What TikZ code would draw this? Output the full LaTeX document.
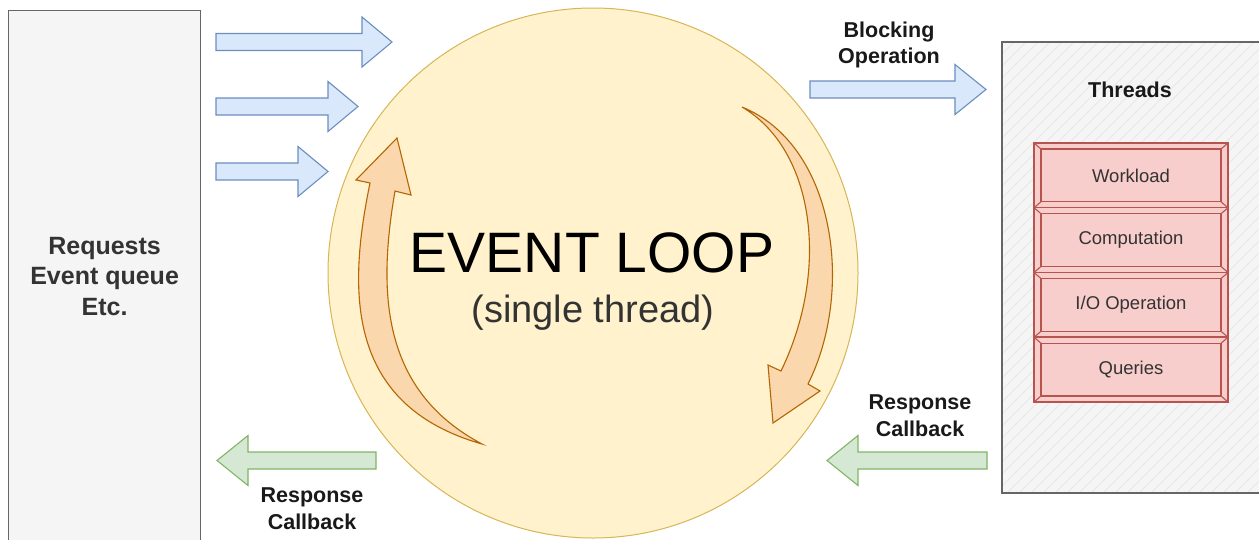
\documentclass[tikz,border=0pt]{standalone}
\usepackage{fontspec}
\setmainfont{Liberation Sans}
\definecolor{grayfill}{HTML}{F5F5F5}
\definecolor{grayline}{HTML}{666666}
\definecolor{hatchline}{HTML}{E8E8E8}
\definecolor{textgray}{HTML}{333333}
\definecolor{loopfill}{HTML}{FFF2CC}
\definecolor{loopline}{HTML}{D6B656}
\definecolor{orangefill}{HTML}{FAD7AC}
\definecolor{orangeline}{HTML}{B46504}
\definecolor{bluefill}{HTML}{DAE8FC}
\definecolor{blueline}{HTML}{6C8EBF}
\definecolor{greenfill}{HTML}{D5E8D4}
\definecolor{greenline}{HTML}{82B366}
\definecolor{redfill}{HTML}{F8CECC}
\definecolor{redline}{HTML}{B85450}

% block arrow: style, tail x, head base x, tip x, centre y
\newcommand\blockarrow[5]{%
  \draw[#1] (#2,#5-8.5) -- (#3,#5-8.5) -- (#3,#5-25) -- (#4,#5)
    -- (#3,#5+25) -- (#3,#5+8.5) -- (#2,#5+8.5) -- cycle;}

\begin{document}
\begin{tikzpicture}[x=1pt,y=-1pt,
  graybox/.style={draw=grayline, fill=grayfill, line width=1.2pt},
  bluearrow/.style={draw=blueline, fill=bluefill, line width=1.1pt, line join=miter},
  greenarrow/.style={draw=greenline, fill=greenfill, line width=1.1pt, line join=miter},
  bendarrow/.style={draw=orangeline, fill=orangefill, line width=1.1pt, line join=miter},
  boldlabel/.style={font=\fontsize{21.5}{26.5}\selectfont\bfseries, text=black!90, align=center, inner sep=0pt},
  redbox/.style={draw=redline, fill=redfill, line width=1.5pt,
    minimum width=194pt, minimum height=64.75pt, inner sep=0pt,
    font=\fontsize{18.5}{22}\selectfont, text=textgray,
    path picture={
      \draw[redline, line width=1.1pt]
        ([shift={(7pt,-6pt)}]path picture bounding box.north west)
          rectangle ([shift={(-7pt,6pt)}]path picture bounding box.south east);
      \draw[redline, line width=1.1pt]
        (path picture bounding box.north west) -- ([shift={(7pt,-6pt)}]path picture bounding box.north west)
        (path picture bounding box.north east) -- ([shift={(-7pt,-6pt)}]path picture bounding box.north east)
        (path picture bounding box.south west) -- ([shift={(7pt,6pt)}]path picture bounding box.south west)
        (path picture bounding box.south east) -- ([shift={(-7pt,6pt)}]path picture bounding box.south east);
    }}
]
\useasboundingbox (0,0) rectangle (1259,539);
\clip (0,0) rectangle (1259,539);

% request queue on the left
\node[graybox, anchor=north west, minimum width=192pt, minimum height=531pt,
      font=\fontsize{25}{30.5}\selectfont\bfseries, text=textgray, align=center]
  (queue) at (8,10) {Requests\\Event queue\\Etc.};

% the event loop
\node[circle, draw=loopline, fill=loopfill, line width=1pt, minimum size=530pt] (loop) at (593,273) {};
\node[anchor=base, font=\fontsize{57}{60}\selectfont, text=black, inner sep=0pt] (looptitle) at (592,272) {EVENT LOOP};
\node[anchor=base, font=\fontsize{38}{42}\selectfont, text=textgray, inner sep=0pt] (loopsub) at (593,322) {(single thread)};

% rotating arrows inside the loop
\draw[bendarrow] (482,444) .. controls (345,405) and (348,290) .. (370,183)
  -- (356,180) -- (397,138) -- (411,195) -- (395,191)
  .. controls (378,290) and (380,390) .. (482,444) -- cycle;
\draw[bendarrow] (742,107) .. controls (835,145) and (855,290) .. (808,384)
  -- (820,391) -- (773,423) -- (768,365) -- (781,371)
  .. controls (830,270) and (815,150) .. (742,107) -- cycle;

% incoming requests
\blockarrow{bluearrow}{216}{362}{392}{42}
\blockarrow{bluearrow}{216}{328}{358}{106.5}
\blockarrow{bluearrow}{216}{298}{328}{171.5}

% hand-off to the worker threads
\blockarrow{bluearrow}{810}{955}{986}{89.5}
\node[boldlabel] (blocking) at (889,45) {Blocking\\Operation};

% callbacks coming back
\blockarrow{greenarrow}{987}{858}{827}{460.5}
\node[boldlabel] (cbright) at (920,415.5) {Response\\Callback};
\blockarrow{greenarrow}{376}{248}{217}{460.5}
\node[boldlabel] (cbleft) at (312,508.5) {Response\\Callback};

% thread pool
\node[graybox, anchor=north west, minimum width=262pt, minimum height=450pt] (pool) at (1002,42) {};
\begin{scope}
  \clip (1003,43) rectangle (1262,491);
  \foreach \k in {0,...,60} {
    \draw[hatchline, line width=0.8pt] ({552+12*\k},492) -- ({1002+12*\k},42);
  }
\end{scope}
\draw[grayline, line width=1.2pt] (pool.north east) -- (pool.north west) -- (pool.south west) -- (pool.south east);
\node[boldlabel] (threads) at (1130,90) {Threads};

\node[redbox] (work)  at (1131,175.4) {Workload};
\node[redbox] (comp)  at (1131,240.1) {Computation};
\node[redbox] (io)    at (1131,304.9) {I/O Operation};
\node[redbox] (query) at (1131,369.6) {Queries};
\end{tikzpicture}
\end{document}
